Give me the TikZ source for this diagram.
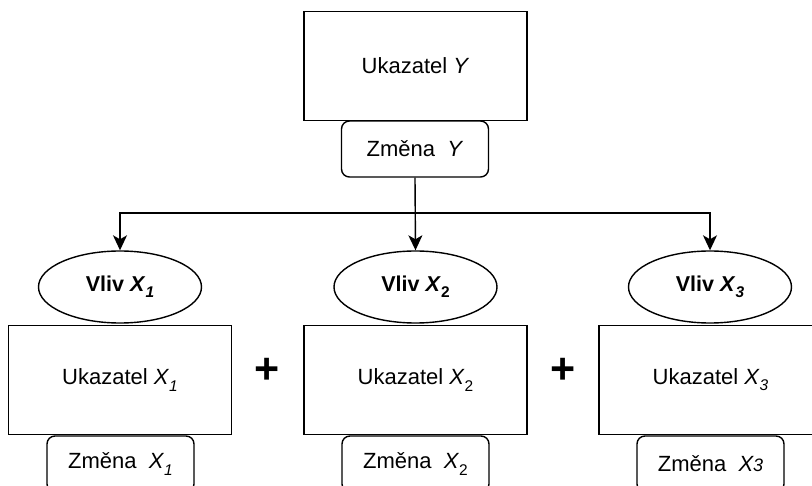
\documentclass[tikz,border=0pt]{standalone}
\usepackage{fontspec}
\setmainfont{Liberation Sans}
\usetikzlibrary{arrows.meta,shapes.geometric}
\newcommand\mysb[1]{\raisebox{-0.28em}{\fontsize{15.5}{15.5}\selectfont #1}}
\begin{document}
\begin{tikzpicture}[x=1pt,y=-1pt,
  bigbox/.style={draw, line width=1.4pt, minimum width=223pt, minimum height=109pt, inner sep=0pt, font=\fontsize{22}{26}\selectfont},
  chgbox/.style={draw, line width=1.4pt, rounded corners=8pt, minimum width=147pt, minimum height=56pt, inner sep=0pt, font=\fontsize{22}{26}\selectfont},
  vliv/.style={draw, ellipse, line width=1.4pt, minimum width=163pt, minimum height=72pt, inner sep=0pt, font=\bfseries\fontsize{21.5}{25}\selectfont},
  plussign/.style={font=\bfseries\fontsize{43}{43}\selectfont, inner sep=0pt},
  conn/.style={line width=1.4pt, -{Stealth[length=15pt,width=14pt,inset=4pt]}},
  seg/.style={line width=1.4pt}
]
\useasboundingbox (0,0) rectangle (812,486);
\clip (0,0) rectangle (812,486);
% top
\node[bigbox] (uy) at (415.5,66) {Ukazatel \textit{Y}};
\node[chgbox] (zy) at (415,149) {Změna\ \ \textit{Y}};
% ellipses
\node[vliv] (e1) at (120,287) {Vliv \textit{X}\mysb{\textit{1}}};
\node[vliv] (e2) at (415.5,287) {Vliv \textit{X}\mysb{2}};
\node[vliv] (e3) at (710,287) {Vliv \textit{X}\mysb{\textit{3}}};
% boxes
\node[bigbox] (u1) at (120,380) {Ukazatel \textit{X}\mysb{\textit{1}}};
\node[bigbox] (u2) at (415.5,380) {Ukazatel \textit{X}\mysb{2}};
\node[bigbox] (u3) at (710.5,380) {Ukazatel \textit{X}\mysb{\textit{3}}};
\node[chgbox] (z1) at (120.5,464) {Změna\ \ \textit{X}\mysb{\textit{1}}};
\node[chgbox] (z2) at (415.5,464) {Změna\ \ \textit{X}\mysb{2}};
\node[chgbox] (z3) at (710.5,464) {Změna\ \ \textit{X{\fontsize{18}{18}\selectfont 3}}};
% plus
\node[plussign] (p1) at (267,371) {+};
\node[plussign] (p2) at (563,371) {+};
% connectors
\coordinate (j) at (zy.south |- 0,213);
\draw[conn] (zy.south) -- (e2.north);
\draw[conn] (j) -| (e1.north);
\draw[conn] (j) -| (e3.north);
\end{tikzpicture}
\end{document}
